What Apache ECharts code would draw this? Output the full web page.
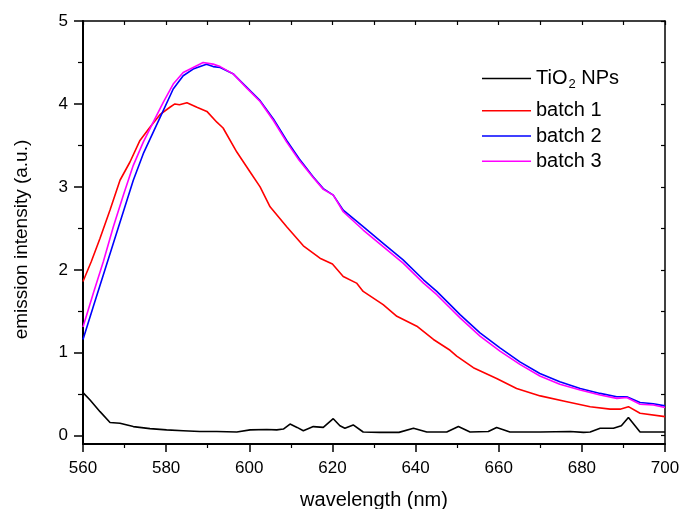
<!DOCTYPE html>
<html>
<head>
<meta charset="utf-8">
<script src="https://cdn.jsdelivr.net/npm/echarts@6/dist/echarts.min.js"></script>
<style>html,body{margin:0;padding:0;background:#fff}#c{width:680px;height:509px}</style>
</head>
<body>
<div id="c"></div>
<script>
// ---- data ----
const seriesNames = ['TiO2 NPs', 'batch 1', 'batch 2', 'batch 3'];
const xTickLabels = [560, 580, 600, 620, 640, 660, 680, 700];
const yTickLabels = [0, 1, 2, 3, 4, 5];

const wlTiO2 = [560, 561.7, 564.1, 566.5, 568.9, 572.1, 576.1, 580.1, 584.1, 588.1, 592.2, 597, 600.2, 604.2, 606.6, 608.2, 609.8, 611.5, 613, 615.4, 617.8, 620.2, 621.8, 623, 625, 627.4, 631.4, 636, 639.5, 642.7, 647.5, 650.3, 653.1, 657.5, 659.5, 662.7, 670, 677.2, 680.4, 682, 684.4, 687.6, 689.5, 691.2, 694, 699.6, 700];
const tio2 = [0.52, 0.43, 0.29, 0.16, 0.15, 0.11, 0.085, 0.07, 0.06, 0.05, 0.05, 0.045, 0.07, 0.075, 0.07, 0.08, 0.14, 0.1, 0.06, 0.11, 0.10, 0.205, 0.12, 0.09, 0.13, 0.045, 0.04, 0.04, 0.09, 0.045, 0.045, 0.11, 0.045, 0.05, 0.10, 0.045, 0.045, 0.05, 0.04, 0.045, 0.09, 0.09, 0.12, 0.22, 0.045, 0.045, 0.045];

const wlB1 = [560, 562, 564.1, 566.5, 568.9, 571.3, 573.7, 576.1, 578.5, 580.9, 582.1, 583.2, 585, 587.4, 589.8, 592.2, 593.7, 597, 599.4, 600.2, 602.6, 605, 609, 613, 617, 620, 622.6, 625.8, 627.4, 632.2, 635.5, 640.3, 644.3, 648.3, 649.9, 653.9, 659.5, 664.3, 670, 676.4, 682, 686.8, 689.2, 691.2, 694, 700];
const batch1 = [1.86, 2.10, 2.38, 2.72, 3.08, 3.30, 3.56, 3.72, 3.87, 3.96, 4.00, 3.99, 4.015, 3.96, 3.91, 3.78, 3.71, 3.42, 3.24, 3.18, 3.00, 2.76, 2.52, 2.29, 2.14, 2.07, 1.92, 1.84, 1.74, 1.58, 1.44, 1.32, 1.16, 1.03, 0.96, 0.82, 0.69, 0.57, 0.48, 0.41, 0.35, 0.32, 0.32, 0.35, 0.27, 0.23];

const wlB2 = [560, 562.5, 564.9, 567.3, 569.7, 572.1, 574.5, 576.9, 579.3, 581.7, 584.1, 586.5, 589.7, 591.3, 593, 596.2, 599.4, 602.6, 605.8, 609, 612, 615.4, 617.8, 620.2, 622.6, 627.4, 632.2, 637, 641.9, 645.1, 648.3, 650.7, 655.5, 660.3, 665.1, 669.9, 674.7, 679.6, 684.4, 688.4, 690.8, 694, 697.2, 700];
const batch2 = [1.16, 1.56, 1.94, 2.32, 2.70, 3.08, 3.40, 3.66, 3.92, 4.18, 4.34, 4.42, 4.48, 4.45, 4.44, 4.36, 4.20, 4.04, 3.82, 3.56, 3.34, 3.12, 2.98, 2.90, 2.72, 2.52, 2.32, 2.12, 1.88, 1.74, 1.58, 1.46, 1.24, 1.06, 0.89, 0.75, 0.65, 0.57, 0.51, 0.47, 0.47, 0.40, 0.385, 0.36];

const wlB3 = [560, 562.5, 564.9, 567.3, 569.7, 572.1, 574.5, 576.9, 579.3, 581.7, 584.1, 586.5, 588.9, 591.3, 593, 596.2, 599.4, 602.6, 605.8, 609, 612, 615.4, 617.8, 620.2, 622.6, 627.4, 632.2, 637, 641.9, 645.1, 648.3, 650.7, 655.5, 660.3, 665.1, 669.9, 674.7, 679.6, 684.4, 688.4, 690.8, 694, 697.2, 700];
const batch3 = [1.31, 1.72, 2.10, 2.52, 2.90, 3.26, 3.54, 3.78, 4.02, 4.24, 4.38, 4.44, 4.50, 4.48, 4.45, 4.36, 4.19, 4.03, 3.80, 3.54, 3.32, 3.11, 2.97, 2.90, 2.70, 2.48, 2.28, 2.08, 1.84, 1.70, 1.54, 1.42, 1.20, 1.02, 0.86, 0.72, 0.62, 0.55, 0.49, 0.45, 0.46, 0.38, 0.37, 0.34];

const colors = ['#000000', '#ff0000', '#0000ff', '#ff00ff'];

// ---- chart ----
const pair = (xs, ys) => xs.map((x, i) => [x, ys[i]]);
const FONT = '"Liberation Sans", Arial, sans-serif';
const chart = echarts.init(document.getElementById('c'), null, {renderer: 'canvas'});
const lineSeries = (name, xs, ys, color) => ({
  name, type: 'line', data: pair(xs, ys), showSymbol: false, symbol: 'none',
  xAxisIndex: 0, yAxisIndex: 0, animation: false,
  lineStyle: {color, width: 1.6}, itemStyle: {color}
});
const minorY = [];
for (let v = 0.5; v < 5; v += 1) minorY.push(v);
const rightY = [];
for (let v = 0; v <= 5; v += 0.5) rightY.push(v);

chart.setOption({
  animation: false,
  textStyle: {fontFamily: FONT},
  grid: {left: 83, right: 15, top: 21, bottom: 65, containLabel: false, outerBoundsMode: 'none'},
  legend: [
    {
      data: [seriesNames[0]], orient: 'vertical', left: 482, top: 66, padding: 0,
      icon: 'rect', itemWidth: 49, itemHeight: 1.6, itemGap: 5,
      formatter: () => '{a|TiO}{s|2}{a| NPs}',
      textStyle: {
        color: '#000', fontFamily: FONT, fontSize: 20,
        rich: {
          a: {fontSize: 20, fontFamily: FONT, color: '#000', lineHeight: 20},
          s: {fontSize: 13, fontFamily: FONT, color: '#000', padding: [12, 0, 0, 1], lineHeight: 20}
        }
      }
    },
    {
      data: seriesNames.slice(1), orient: 'vertical', left: 482, top: 100.7, padding: 0,
      icon: 'rect', itemWidth: 49, itemHeight: 1.6, itemGap: 5.3,
      textStyle: {color: '#000', fontFamily: FONT, fontSize: 20, lineHeight: 20}
    }
  ],
  xAxis: [
    {
      type: 'value', position: 'bottom', min: 560, max: 700, interval: 20,
      name: 'wavelength (nm)', nameLocation: 'middle', nameGap: 46,
      nameTextStyle: {fontSize: 20, color: '#000', fontFamily: FONT},
      axisLine: {show: true, onZero: false, lineStyle: {color: '#000', width: 1.8}},
      axisTick: {show: true, inside: false, length: 8, lineStyle: {color: '#000', width: 1.5}},
      minorTick: {show: true, splitNumber: 2, length: 4, lineStyle: {color: '#000', width: 1.2}},
      axisLabel: {fontSize: 17, color: '#000', margin: 16, fontFamily: FONT,
        formatter: v => xTickLabels.includes(v) ? String(v) : ''},
      splitLine: {show: false}, minorSplitLine: {show: false}
    },
    {
      type: 'value', position: 'top', min: 560, max: 700, interval: 10,
      axisLine: {show: true, onZero: false, lineStyle: {color: '#000', width: 1.5}},
      axisTick: {show: true, inside: true, length: 4, lineStyle: {color: '#000', width: 1.2}},
      axisLabel: {show: false}, splitLine: {show: false}
    }
  ],
  yAxis: [
    {
      type: 'value', position: 'left', min: -0.1, max: 5,
      name: 'emission intensity (a.u.)', nameLocation: 'middle', nameGap: 52,
      nameTextStyle: {fontSize: 19, color: '#000', fontFamily: FONT, padding: [0, 14, 0, 0]},
      axisLine: {show: true, onZero: false, lineStyle: {color: '#000', width: 2}},
      axisTick: {show: true, inside: false, length: 9, customValues: yTickLabels, lineStyle: {color: '#000', width: 1.5}},
      axisLabel: {fontSize: 17, color: '#000', margin: 15, fontFamily: FONT, customValues: yTickLabels},
      splitLine: {show: false}
    },
    {
      type: 'value', position: 'left', min: -0.1, max: 5,
      axisLine: {show: false},
      axisTick: {show: true, inside: false, length: 5, customValues: minorY, lineStyle: {color: '#000', width: 1.2}},
      axisLabel: {show: false}, splitLine: {show: false}
    },
    {
      type: 'value', position: 'right', min: -0.1, max: 5,
      axisLine: {show: true, onZero: false, lineStyle: {color: '#000', width: 1.5}},
      axisTick: {show: true, inside: true, length: 4, customValues: rightY, lineStyle: {color: '#000', width: 1.2}},
      axisLabel: {show: false}, splitLine: {show: false}
    }
  ],
  series: [
    lineSeries(seriesNames[0], wlTiO2, tio2, colors[0]),
    lineSeries(seriesNames[1], wlB1, batch1, colors[1]),
    lineSeries(seriesNames[2], wlB2, batch2, colors[2]),
    lineSeries(seriesNames[3], wlB3, batch3, colors[3])
  ]
});
</script>
</body>
</html>
